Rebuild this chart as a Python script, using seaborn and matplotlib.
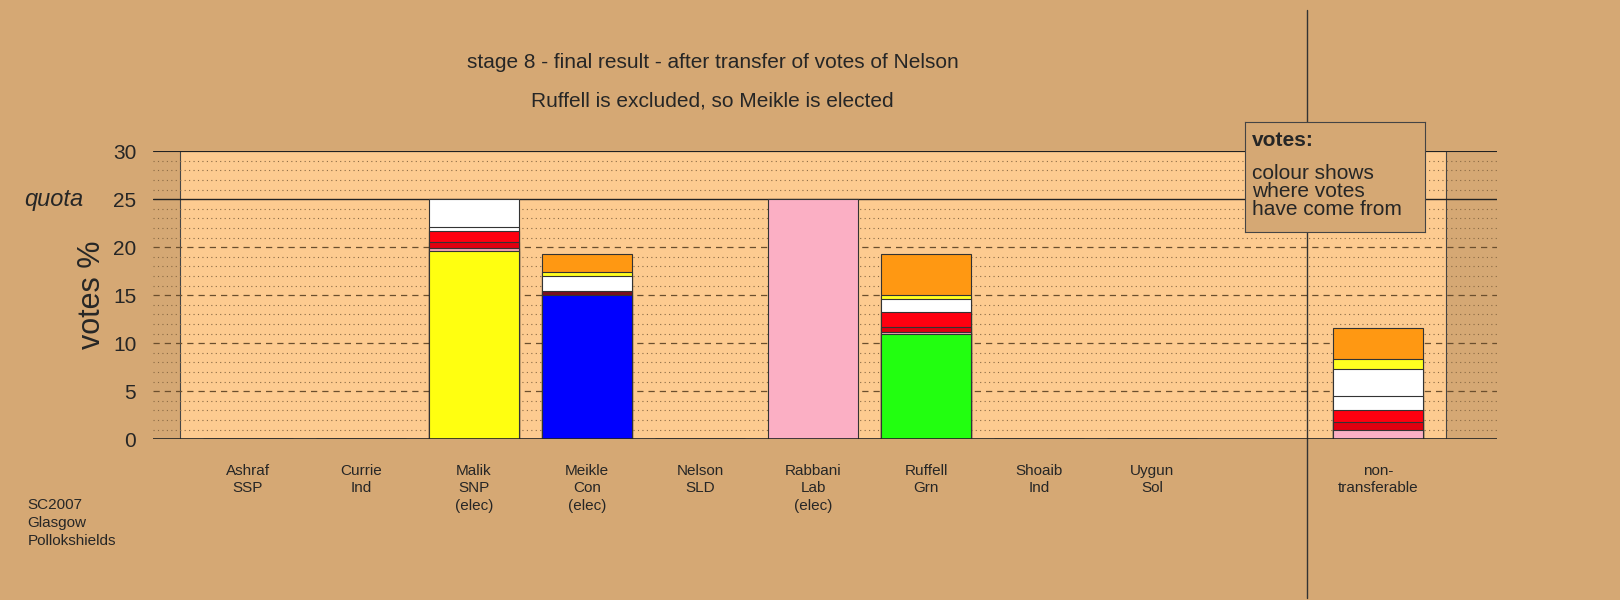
import matplotlib
matplotlib.use("Agg")
import matplotlib.pyplot as plt
import seaborn as sns
import pandas as pd
import numpy as np
from matplotlib.patches import Rectangle

sns.set_theme(style="white")
plt.rcParams['font.family'] = ['Liberation Sans', 'DejaVu Sans']

names = ["Ashraf\nSSP", "Currie\nInd", "Malik\nSNP\n(elec)", "Meikle\nCon\n(elec)", "Nelson\nSLD",
         "Rabbani\nLab\n(elec)", "Ruffell\nGrn", "Shoaib\nInd", "Uygun\nSol", "non-\ntransferable"]
positions = [0, 1, 2, 3, 4, 5, 6, 7, 8, 10]
# stacked segments (value, colour) bottom -> top
segments = [
    [],
    [],
    [(19.6, "#FFFF10"), (0.3, "#F4A6B4"), (0.6, "#E00010"), (1.2, "#FF0010"), (0.4, "#FFFFFF"), (2.9, "#FFFFFF")],
    [(15.0, "#0000FF"), (0.4, "#7A1020"), (1.6, "#FFFFFF"), (0.4, "#FFFF20"), (1.9, "#FF9812")],
    [],
    [(25.0, "#FBAFC4")],
    [(11.0, "#22FF10"), (0.2, "#F4A6B4"), (0.5, "#E00010"), (1.5, "#FF0010"), (1.4, "#FFFFFF"), (0.4, "#FFFF20"), (4.3, "#FF9812")],
    [],
    [],
    [(1.0, "#FBAFC4"), (0.8, "#E00010"), (1.2, "#FF0010"), (1.5, "#FFFFFF"), (2.8, "#FFFFFF"), (1.1, "#FFFF20"), (3.2, "#FF9812")],
]

bg = "#D5A874"
inner = "#FDCB90"
fig = plt.figure(figsize=(16.2, 6), dpi=100, facecolor=bg)
ax = fig.add_axes([0.0944, 0.268, 0.8296, 0.48])
ax.set_facecolor(bg)
ax.set_xlim(-0.84, 11.05)
ax.set_ylim(0, 30)
ax.add_patch(Rectangle((-0.6, 0), 11.2, 30, facecolor=inner, edgecolor="#444444", lw=0.8, zorder=0))

for y in range(1, 30):
    if y % 5 == 0:
        ls = "-" if y == 25 else (0, (5, 4))
        ax.axhline(y, color="#222222" if y == 25 else "#6b4f2e", lw=1 if y == 25 else 0.9, ls=ls, zorder=1)
    else:
        ax.axhline(y, color="#8a6a44", lw=0.8, ls=(0, (1, 3)), zorder=1)
ax.axhline(30, color="#222222", lw=0.8, zorder=1)

# stacked bars via seaborn: draw cumulative tops in descending order
nmax = max(len(s) for s in segments)
for k in range(nmax - 1, -1, -1):
    ys, cols = [], []
    for seg in segments:
        if len(seg) > k:
            ys.append(sum(v for v, c in seg[:k + 1])); cols.append(seg[k][1])
        else:
            ys.append(0.0); cols.append(inner)
    df = pd.DataFrame({"x": positions, "y": ys, "h": [str(i) for i in range(len(ys))]})
    sns.barplot(data=df, x="x", y="y", hue="h", palette=cols, native_scale=True, width=0.8,
                saturation=1, edgecolor="#333333", linewidth=0.8, legend=False, ax=ax, zorder=3)
ax.axhline(0, color="#222222", lw=1.2, zorder=5)

ax.axvline(9.37, ymin=-0.55, ymax=1.49, color="#333333", lw=1, clip_on=False)

ax.set_xticks(positions)
ax.set_xticklabels(names, fontsize=11, linespacing=1.3, va="top")
ax.tick_params(axis="x", length=0, pad=18)
ax.set_yticks([0, 5, 10, 15, 20, 25, 30])
ax.set_yticklabels(["0", "5", "10", "15", "20", "25", "30"], fontsize=15)
ax.tick_params(axis="y", length=0, pad=12)
ax.set_xlabel("")
ax.set_ylabel("votes %", fontsize=22, labelpad=4)
ax.text(-0.84 - 0.62, 25, "quota", fontsize=17, style="italic", ha="right", va="center")
for s in ax.spines.values():
    s.set_visible(False)

fig.text(0.44, 0.895, "stage 8 - final result - after transfer of votes of Nelson", fontsize=15, ha="center", va="center")
fig.text(0.44, 0.832, "Ruffell is excluded, so Meikle is elected", fontsize=15, ha="center", va="center")
fig.text(0.017, 0.17, "SC2007\nGlasgow\nPollokshields", fontsize=11, ha="left", va="top", linespacing=1.35)

lb = fig.add_axes([1245 / 1620, 1 - 232 / 600, 180 / 1620, 110 / 600])
lb.set_zorder(10)
lb.patch.set_alpha(1)
lb.set_facecolor(bg)
lb.set_xticks([]); lb.set_yticks([])
for s in lb.spines.values():
    s.set_color("#444444"); s.set_linewidth(0.8)
lb.text(0.04, 0.83, "votes:", fontsize=15, fontweight="bold", va="center", transform=lb.transAxes)
lb.text(0.04, 0.62, "colour shows\nwhere votes\nhave come from", fontsize=15, va="top", linespacing=0.95, transform=lb.transAxes)

fig.savefig("out.png", dpi=100, facecolor=bg)
